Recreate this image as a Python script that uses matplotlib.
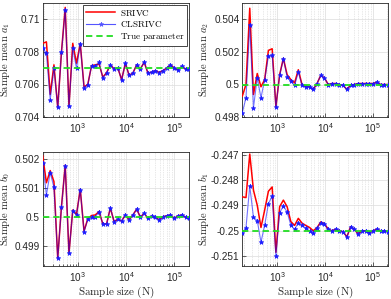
import numpy as np
import matplotlib
matplotlib.use("Agg")
import matplotlib.pyplot as plt
from matplotlib.ticker import FixedLocator, FixedFormatter, LogLocator, NullFormatter

plt.rcParams['font.family'] = ['Liberation Sans', 'DejaVu Sans']
plt.rcParams['mathtext.fontset'] = 'custom'
plt.rcParams['mathtext.rm'] = 'Liberation Sans'
plt.rcParams['mathtext.it'] = 'Liberation Sans:italic'

# Sample sizes
N = [185, 221, 265, 317, 380, 455, 544, 651, 780, 934,
     1118, 1339, 1603, 1919, 2298, 2751, 3294, 3944, 4722, 5654,
     6769, 8104, 9703, 11618, 13910, 16654, 19939, 23873, 28583, 34222,
     40973, 49056, 58733, 70320, 84193, 100809, 120700, 144500, 173000, 207200]

# a1
a1_clsrivc = [0.7082, 0.7079, 0.70507, 0.7070, 0.7046, 0.70796, 0.71057, 0.70467, 0.7082, 0.7070,
              0.70845, 0.70578, 0.70598, 0.70713, 0.7071, 0.70736, 0.70639, 0.70669, 0.7072, 0.70695,
              0.7070, 0.70629, 0.7073, 0.70655, 0.7067, 0.7072, 0.70695, 0.70736, 0.7067, 0.70675,
              0.70685, 0.70673, 0.70685, 0.7070, 0.7072, 0.7070, 0.7069, 0.7071, 0.70695, 0.70695]
a1_srivc = [0.70851, 0.7086, 0.7054, 0.7072, 0.7046, 0.7080, 0.7107, 0.70467, 0.70851, 0.7073,
            0.70851, 0.70585, 0.7060, 0.70715, 0.7072, 0.70725, 0.70645, 0.70672, 0.7072, 0.70695,
            0.7070, 0.70629, 0.7073, 0.70655, 0.7067, 0.7072, 0.70695, 0.70736, 0.7067, 0.70675,
            0.70685, 0.70673, 0.70685, 0.7070, 0.7072, 0.7070, 0.7069, 0.7071, 0.70695, 0.70695]

# a2
a2_clsrivc = [0.49828, 0.49919, 0.50364, 0.49859, 0.50041, 0.49919, 0.5003, 0.50172, 0.50178, 0.49865,
              0.50055, 0.50156, 0.50047, 0.5002, 0.49994, 0.50075, 0.49994, 0.49986, 0.49986, 0.4997,
              0.50006, 0.50055, 0.5004, 0.5, 0.50006, 0.50006, 0.5, 0.49994, 0.4997, 0.49996,
              0.5, 0.50006, 0.50006, 0.50006, 0.50006, 0.50006, 0.50014, 0.5, 0.5, 0.5]
a2_srivc = [0.49929, 0.5, 0.50465, 0.49939, 0.50067, 0.49986, 0.5003, 0.50208, 0.50218, 0.49865,
            0.5006, 0.5016, 0.5006, 0.5003, 0.5001, 0.5009, 0.49998, 0.49988, 0.49986, 0.4997,
            0.50006, 0.50055, 0.5004, 0.5, 0.50006, 0.50006, 0.5, 0.49994, 0.4997, 0.49996,
            0.5, 0.50006, 0.50006, 0.50006, 0.50006, 0.50006, 0.50014, 0.5, 0.5, 0.5]

# b0
b0_clsrivc = [0.50186, 0.50075, 0.50152, 0.50101, 0.49857, 0.50034, 0.50175, 0.49874, 0.50021, 0.50006,
              0.50092, 0.49948, 0.49991, 0.49998, 0.5, 0.50017, 0.49975, 0.49975, 0.5003, 0.49983,
              0.49991, 0.49985, 0.50006, 0.49989, 0.50006, 0.50026, 0.49998, 0.50012, 0.49994, 0.50002,
              0.49998, 0.49989, 0.5, 0.50003, 0.50006, 0.49994, 0.50003, 0.50006, 0.49998, 0.49994]
b0_srivc = [0.5021, 0.50117, 0.50159, 0.50121, 0.49857, 0.50036, 0.50178, 0.49874, 0.50023, 0.50008,
            0.50095, 0.4995, 0.49993, 0.50004, 0.50006, 0.50018, 0.49975, 0.49975, 0.5003, 0.49983,
            0.49991, 0.49985, 0.50006, 0.49989, 0.50006, 0.50026, 0.49998, 0.50012, 0.49994, 0.50002,
            0.49998, 0.49989, 0.5, 0.50003, 0.50006, 0.49994, 0.50003, 0.50006, 0.49998, 0.49994]

# b1
b1_clsrivc = [-0.25008, -0.24988, -0.24823, -0.24947, -0.2496, -0.25045, -0.24978, -0.24893, -0.24863, -0.2510,
              -0.24929, -0.24902, -0.24926, -0.24978, -0.24995, -0.24968, -0.24979, -0.2499, -0.25, -0.25008,
              -0.24991, -0.24968, -0.24974, -0.24994, -0.25, -0.24994, -0.25, -0.25004, -0.25024, -0.24984,
              -0.24994, -0.25013, -0.25, -0.25, -0.25008, -0.25, -0.24994, -0.25, -0.25, -0.25004]
b1_srivc = [-0.24866, -0.24869, -0.24697, -0.2484, -0.24899, -0.24987, -0.24918, -0.24844, -0.24827, -0.25085,
            -0.24905, -0.24879, -0.24905, -0.24964, -0.24979, -0.24951, -0.2497, -0.24979, -0.24987, -0.25,
            -0.24988, -0.24965, -0.24972, -0.24994, -0.25, -0.24994, -0.25, -0.25004, -0.25024, -0.24984,
            -0.24994, -0.25013, -0.25, -0.25, -0.25008, -0.25, -0.24994, -0.25, -0.25, -0.25004]

true_vals = [0.707, 0.5, 0.5, -0.25]
ylabels = [r'$\mathrm{Sample\ mean}\ a_1$', r'$\mathrm{Sample\ mean}\ a_2$',
           r'$\mathrm{Sample\ mean}\ b_0$', r'$\mathrm{Sample\ mean}\ b_1$']
yticks = [[0.704, 0.706, 0.708, 0.71], [0.498, 0.5, 0.502, 0.504],
          [0.499, 0.5, 0.501, 0.502], [-0.251, -0.25, -0.249, -0.248, -0.247]]
ylims = [(0.704, 0.711), (0.498, 0.505), (0.49831, 0.50223), (-0.25138, -0.24689)]
xticks = [1e3, 1e4, 1e5]
xticklabels = [r'$10^3$', r'$10^4$', r'$10^5$']
legend_labels = ['SRIVC', 'CLSRIVC', 'True parameter']

srivc = [a1_srivc, a2_srivc, b0_srivc, b1_srivc]
clsrivc = [a1_clsrivc, a2_clsrivc, b0_clsrivc, b1_clsrivc]

W, H = 391, 299
fig = plt.figure(figsize=(W / 100, H / 100), dpi=100)
positions = [
    (42.7, 2.5, 146.6, 114.8),
    (242.3, 2.5, 145.7, 114.8),
    (42.7, 152.0, 146.6, 113.7),
    (242.3, 152.0, 145.7, 113.7),
]
label_right_px = [12.5, 211.0, 12.5, 211.0]
edge = '#262626'
for k in range(4):
    x0, y0, w, h = positions[k]
    ax = fig.add_axes([x0 / W, (H - y0 - h) / H, w / W, h / H])
    ax.set_xscale('log')
    ax.plot(N, srivc[k], color='#ff0000', lw=1.1, zorder=3, label=legend_labels[0])
    ax.plot(N, clsrivc[k], color='#0000ff', lw=0.8, alpha=0.55, zorder=4)
    ax.plot(N, clsrivc[k], ls='none', marker='*', ms=3.4, color='#1a1aff', mew=0.5, zorder=5)
    ax.plot([], [], color='#5555ff', lw=0.8, marker='*', ms=3.4, mew=0.5, label=legend_labels[1])
    ax.axhline(true_vals[k], color='#22dd22', lw=1.3, ls=(0, (3.5, 2.2)), zorder=6, label=legend_labels[2])
    ax.set_xlim(N[0], N[-1])
    ax.set_ylim(*ylims[k])
    ax.xaxis.set_major_locator(FixedLocator(xticks))
    ax.xaxis.set_major_formatter(FixedFormatter(xticklabels))
    ax.xaxis.set_minor_locator(LogLocator(base=10, subs=np.arange(2, 10), numticks=20))
    ax.xaxis.set_minor_formatter(NullFormatter())
    ax.yaxis.set_major_locator(FixedLocator(yticks[k]))
    ax.yaxis.set_major_formatter(FixedFormatter(['%g' % v for v in yticks[k]]))
    ax.tick_params(which='both', direction='in', colors=edge, labelsize=7.2, width=0.5)
    ax.tick_params(which='major', length=3, pad=2)
    ax.tick_params(which='minor', length=1.5)
    ax.tick_params(axis='x', which='major', pad=3)
    ax.grid(True, which='major', color='#dcdcdc', lw=0.5)
    ax.grid(True, which='minor', axis='x', color='#d2d2d2', lw=0.5, ls=(0, (1, 1.5)))
    ax.set_axisbelow(True)
    for s in ax.spines.values():
        s.set_color(edge)
        s.set_linewidth(0.6)
    ax.set_ylabel(ylabels[k], fontsize=7.6, color=edge, math_fontfamily='cm')
    ax.yaxis.set_label_coords((label_right_px[k] - x0) / w, 0.5)
    if k >= 2:
        ax.set_xlabel(r'$\mathrm{Sample\ size\ (N)}$', fontsize=8, color=edge, labelpad=1,
                      math_fontfamily='cm')
    if k == 0:
        h_, l_ = ax.get_legend_handles_labels()
        leg = ax.legend(h_, [r'$\mathrm{%s}$' % t.replace(' ', r'\ ') for t in l_],
                        loc='upper right', bbox_to_anchor=(0.985, 0.98), borderaxespad=0,
                        fontsize=6.6, frameon=True, fancybox=False, framealpha=1,
                        edgecolor=edge, handlelength=3.2, handletextpad=0.5,
                        labelspacing=0.2, borderpad=0.3)
        leg.get_frame().set_linewidth(0.6)
        for t in leg.get_texts():
            t.set_math_fontfamily('cm')

fig.savefig('out.png', dpi=100)
